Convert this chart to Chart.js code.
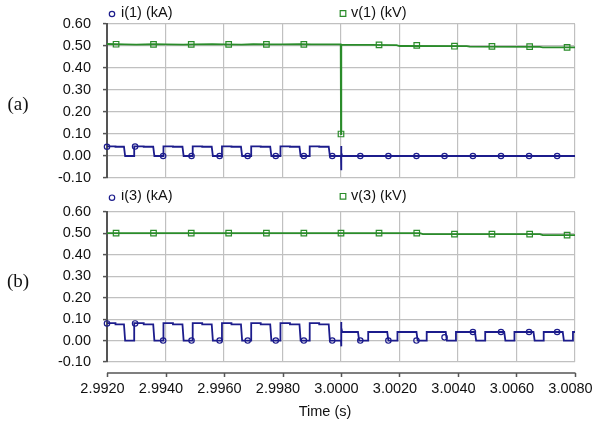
<!DOCTYPE html>
<html>
<head>
<meta charset="utf-8">
<script src="https://cdn.jsdelivr.net/npm/chart.js@4.4.1/dist/chart.umd.min.js"></script>
<style>
  html, body { margin: 0; padding: 0; background: #ffffff; }
  #wrap { position: relative; width: 594px; height: 421px; overflow: hidden; }
  canvas { position: absolute; left: 0; }
</style>
</head>
<body>
<div id="wrap">
  <canvas id="panelA" width="594" height="190" style="top:0px"></canvas>
  <canvas id="panelB" width="594" height="231" style="top:190px"></canvas>
</div>
<script>
// ---- axes ----
const timeTicks = [2.9920, 2.9940, 2.9960, 2.9980, 3.0000, 3.0020, 3.0040, 3.0060, 3.0080];
const valueTicks = [-0.10, 0.00, 0.10, 0.20, 0.30, 0.40, 0.50, 0.60];

// ---- converter switching instants (s) ----
const switchFall = [2.99258, 2.99358, 2.99458, 2.99558, 2.99658, 2.99758, 2.99858, 2.99958,
                    3.00058, 3.00158, 3.00258, 3.00358, 3.00458, 3.00558, 3.00658, 3.00758];
const switchRise = [2.99293, 2.99393, 2.99493, 2.99593, 2.99693, 2.99793, 2.99893, 3.00000,
                    3.00093, 3.00193, 3.00293, 3.00393, 3.00493, 3.00593, 3.00693, 3.00793];

// ---- current pulse levels (kA), start and end of each conduction interval ----
const i1PulseStart = [0.044, 0.044, 0.044, 0.044, 0.044, 0.044, 0.044, 0.044, 0, 0, 0, 0, 0, 0, 0, 0, 0];
const i1PulseEnd   = [0.042, 0.042, 0.042, 0.042, 0.042, 0.042, 0.042, 0.042, 0, 0, 0, 0, 0, 0, 0, 0, 0];
const i3PulseStart = [0.081, 0.081, 0.081, 0.081, 0.081, 0.081, 0.081, 0.081,
                      0.040, 0.040, 0.040, 0.040, 0.040, 0.040, 0.040, 0.040, 0.040];
const i3PulseEnd   = [0.076, 0.076, 0.076, 0.076, 0.076, 0.076, 0.076, 0.076,
                      0.040, 0.040, 0.040, 0.040, 0.040, 0.040, 0.040, 0.040, 0.040];

// ---- transient at the fault instant ----
const faultTime = [3.00000, 3.00001, 3.00002, 3.00004];
const i1Fault = [0.045, -0.065, 0.015, 0.000];
const i3Fault = [0.087, -0.027, 0.060, 0.040];

// ---- voltages (kV) ----
const v1Time = [2.9920, 2.9926, 2.9930, 2.9936, 2.9940, 2.9946, 2.9950, 2.9956, 2.9960, 2.9966,
                2.9970, 2.9976, 2.9980, 2.9986, 2.9990, 2.99999, 3.00000, 3.00001, 3.0010,
                3.0019, 3.0020, 3.0043, 3.0044, 3.0068, 3.0069, 3.0080];
const v1Volt = [0.509, 0.507, 0.506, 0.508, 0.507, 0.506, 0.507, 0.508, 0.507, 0.506,
                0.508, 0.507, 0.507, 0.508, 0.507, 0.507, 0.100, 0.505, 0.505,
                0.504, 0.500, 0.499, 0.497, 0.496, 0.494, 0.494];
const v3Time = [2.9920, 3.0027, 3.0028, 3.0068, 3.0069, 3.0080];
const v3Volt = [0.501, 0.501, 0.497, 0.497, 0.492, 0.492];

// ---- marker samples ----
const iMarkTime = [2.99200, 2.99296, 2.99392, 2.99489, 2.99585, 2.99681, 2.99777, 2.99873, 2.99970,
                   3.00066, 3.00162, 3.00258, 3.00354, 3.00451, 3.00547, 3.00643, 3.00739];
const i1Mark = [0.042, 0.043, 0, 0, 0, 0, 0, 0, 0, 0, 0, 0, 0, 0, 0, 0, 0];
const i3Mark = [0.080, 0.080, 0, 0, 0, 0, 0, 0, 0, 0, 0, 0, 0.015, 0.040, 0.040, 0.040, 0.040];
const vMarkTime = [2.99231, 2.99359, 2.99488, 2.99616, 2.99745, 2.99873, 3.00000,
                   3.00130, 3.00259, 3.00388, 3.00516, 3.00645, 3.00773];
const v1Mark = [0.508, 0.507, 0.507, 0.507, 0.507, 0.507, 0.100, 0.505, 0.503, 0.499, 0.498, 0.497, 0.494];
const v3Mark = [0.501, 0.501, 0.501, 0.501, 0.501, 0.501, 0.501, 0.501, 0.501, 0.497, 0.497, 0.497, 0.492];

const tMin = timeTicks[0], tMax = timeTicks[timeTicks.length - 1];
const faultPulse = 8;
const fallTime = 0.00004;

const BLUE = '#1c1c8c';
const GREEN = '#2a8c2a';
const GRID = '#c0c0c0';
const AXIS = '#555555';
const TEXT = '#111111';
const SANS = "'Liberation Sans', Arial, sans-serif";

Chart.defaults.font.family = SANS;
Chart.defaults.font.size = 14.5;
Chart.defaults.color = TEXT;

function buildCurrent(startLv, endLv, faultLv) {
  const pts = [];
  const n = switchFall.length;
  for (let k = 0; k <= n; k++) {
    const t0 = k === 0 ? tMin : switchRise[k - 1];
    const t1 = k < n ? switchFall[k] : tMax;
    const a = startLv[k], b = endLv[k];
    if (k === faultPulse) {
      pts.push({ x: t0, y: 0 });
      faultTime.forEach((t, j) => pts.push({ x: t, y: faultLv[j] }));
    } else {
      if (k > 0) pts.push({ x: t0, y: 0 });
      pts.push({ x: t0, y: a });
    }
    const tm = (t0 + t1) / 2;
    pts.push({ x: tm, y: a }, { x: tm, y: b });
    if (k < n) pts.push({ x: t1, y: b }, { x: t1 + fallTime, y: 0 });
    else pts.push({ x: t1, y: b });
  }
  return pts;
}

const zip = (xs, ys) => xs.map((x, i) => ({ x: x, y: ys[i] }));

function markerSet(xs, ys, color, style, r) {
  return {
    data: zip(xs, ys), showLine: false, pointStyle: style, pointRadius: r,
    pointBorderWidth: 1.2, pointBorderColor: color, pointBackgroundColor: 'rgba(0,0,0,0)',
    clip: false
  };
}
function traceSet(pts, color) {
  return {
    data: pts, showLine: true, borderColor: color, borderWidth: 1.8,
    pointRadius: 0, tension: 0, fill: false
  };
}

// legend, panel tag and other captions
const captions = {
  id: 'captions',
  afterDraw(chart, args, opts) {
    const ctx = chart.ctx;
    ctx.save();
    ctx.fillStyle = TEXT;
    ctx.textBaseline = 'middle';
    if (opts.tag) {
      ctx.font = "19px 'Liberation Serif', 'Times New Roman', serif";
      ctx.textAlign = 'center';
      ctx.fillText(opts.tag.text, opts.tag.x, opts.tag.y);
    }
    ctx.font = '14.5px ' + SANS;
    ctx.textAlign = 'left';
    (opts.legend || []).forEach(item => {
      ctx.strokeStyle = item.color;
      ctx.lineWidth = 1.2;
      ctx.beginPath();
      if (item.marker === 'circle') {
        ctx.arc(item.mx, item.my, 2.7, 0, Math.PI * 2);
      } else {
        ctx.rect(item.mx - 2.8, item.my - 2.8, 5.6, 5.6);
      }
      ctx.stroke();
      ctx.fillText(item.text, item.tx, item.ty);
    });
    if (opts.xTitle) {
      ctx.textAlign = 'center';
      ctx.fillText(opts.xTitle.text, opts.xTitle.x, opts.xTitle.y);
    }
    if (opts.xAxisLine) {
      const s = chart.scales.x;
      const y = opts.xAxisLine.y;
      ctx.strokeStyle = AXIS;
      ctx.lineWidth = 1.5;
      ctx.beginPath();
      ctx.moveTo(s.left, y);
      ctx.lineTo(s.right + 0.5, y);
      s.ticks.forEach(t => {
        const px = Math.round(s.getPixelForValue(t.value)) + 0.5;
        ctx.moveTo(px, y);
        ctx.lineTo(px, y + 4);
      });
      ctx.stroke();
    }
    ctx.restore();
  }
};

function makeOptions(padding, xHeight, showXLabels, captionOpts) {
  return {
    responsive: false,
    animation: false,
    events: [],
    devicePixelRatio: 1,
    layout: { padding: padding },
    plugins: {
      legend: { display: false },
      tooltip: { enabled: false },
      title: { display: false },
      captions: captionOpts
    },
    scales: {
      x: {
        type: 'linear', min: tMin, max: tMax,
        afterBuildTicks: s => { s.ticks = timeTicks.map(v => ({ value: v })); },
        afterFit: s => { s.height = xHeight; s.paddingLeft = 0; s.paddingRight = 0; },
        ticks: {
          display: showXLabels, padding: 18, labelOffset: -4.5, maxRotation: 0, autoSkip: false,
          callback: v => v.toFixed(4), color: TEXT
        },
        grid: { color: GRID, lineWidth: 1.2, drawTicks: false },
        border: { display: false }
      },
      y: {
        type: 'linear', min: -0.1, max: 0.6,
        afterBuildTicks: s => { s.ticks = valueTicks.map(v => ({ value: v })); },
        afterFit: s => { s.width = 107; s.paddingTop = 0; s.paddingBottom = 0; },
        ticks: { padding: 12, callback: v => v.toFixed(2), color: TEXT },
        grid: { color: GRID, lineWidth: 1.2, tickLength: 4, tickColor: AXIS, tickWidth: 1.5 },
        border: { display: true, color: AXIS, width: 2 }
      }
    }
  };
}

new Chart(document.getElementById('panelA'), {
  type: 'scatter',
  data: {
    datasets: [
      markerSet(iMarkTime, i1Mark, BLUE, 'circle', 2.7),
      markerSet(vMarkTime, v1Mark, GREEN, 'rect', 3.9),
      traceSet(buildCurrent(i1PulseStart, i1PulseEnd, i1Fault), BLUE),
      traceSet(zip(v1Time, v1Volt), GREEN)
    ]
  },
  options: makeOptions({ top: 24, right: 19, bottom: 12, left: 0 }, 0, false, {
    tag: { text: '(a)', x: 18, y: 105 },
    legend: [
      { text: 'i(1) (kA)', marker: 'circle', color: BLUE, mx: 112, my: 14, tx: 121, ty: 12.5 },
      { text: 'v(1) (kV)', marker: 'rect', color: GREEN, mx: 343, my: 13.5, tx: 351, ty: 12.5 }
    ]
  }),
  plugins: [captions]
});

new Chart(document.getElementById('panelB'), {
  type: 'scatter',
  data: {
    datasets: [
      markerSet(iMarkTime, i3Mark, BLUE, 'circle', 2.7),
      markerSet(vMarkTime, v3Mark, GREEN, 'rect', 3.9),
      traceSet(buildCurrent(i3PulseStart, i3PulseEnd, i3Fault), BLUE),
      traceSet(zip(v3Time, v3Volt), GREEN)
    ]
  },
  options: makeOptions({ top: 22, right: 19, bottom: 0, left: 0 }, 59, true, {
    tag: { text: '(b)', x: 18, y: 92 },
    legend: [
      { text: 'i(3) (kA)', marker: 'circle', color: BLUE, mx: 112, my: 7.7, tx: 121, ty: 6 },
      { text: 'v(3) (kV)', marker: 'rect', color: GREEN, mx: 343, my: 6.3, tx: 351, ty: 6 }
    ],
    xTitle: { text: 'Time (s)', x: 325, y: 221.5 },
    xAxisLine: { y: 183 }
  }),
  plugins: [captions]
});
</script>
</body>
</html>
